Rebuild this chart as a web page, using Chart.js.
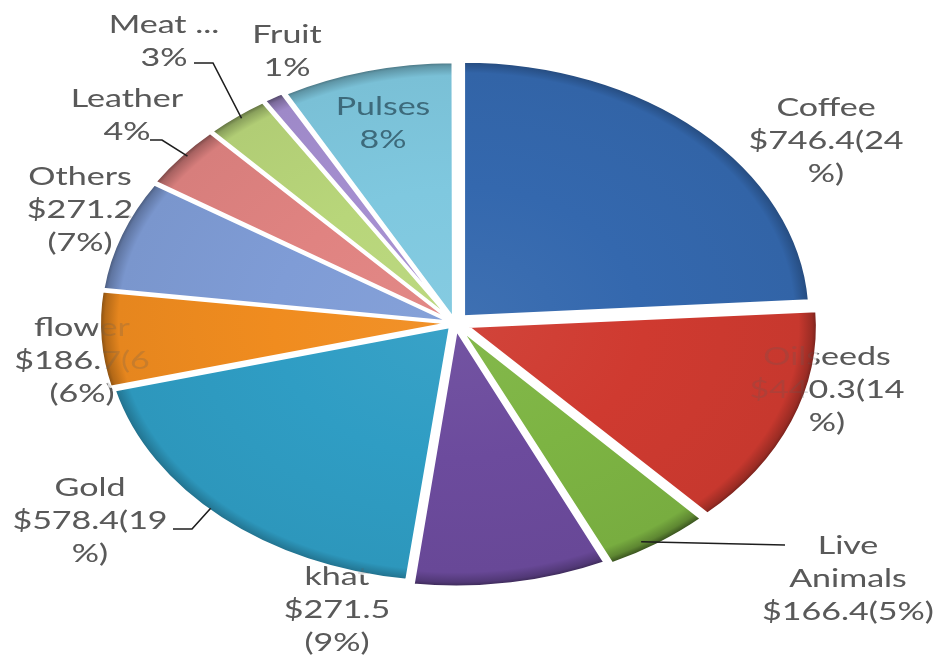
<!DOCTYPE html>
<html>
<head>
<meta charset="utf-8">
<title>Export earnings by commodity</title>
<script src="https://cdn.jsdelivr.net/npm/chart.js@4.4.1/dist/chart.umd.min.js"></script>
<style>
  html, body { margin: 0; padding: 0; background: #fff; }
  canvas { display: block; }
</style>
</head>
<body>
<canvas id="exportPie" width="943" height="656"></canvas>
<script>
// commodities, clockwise from 12 o'clock
const commodities = ['Coffee', 'Oilseeds', 'Live Animals', 'khat', 'Gold', 'flower', 'Others', 'Leather', 'Meat ...', 'Fruit', 'Pulses'];
const shares = [24, 14, 5, 9, 19, 6, 7, 4, 3, 1, 8];          // % of total export earnings
const earnings = [746.4, 440.3, 166.4, 271.5, 578.4, 186.7, 271.2, null, null, null, null]; // USD millions
const sliceColors = ['#3468ae', '#cf3a30', '#7db443', '#6c4b9d', '#2f9dc4', '#f08c1f', '#7f9cd6', '#e08381', '#b8d67a', '#a58fd0', '#7fc8df'];

// how each label reads before wrapping
const labelFormats = [
  '{name} {usd}({pct}%)', '{name} {usd}({pct}%)', '{name} {usd}({pct}%)', '{name} {usd} ({pct}%)',
  '{name} {usd}({pct}%)', '{name} {usd}({pct} ({pct}%)', '{name} {usd} ({pct}%)',
  '{name} {pct}%', '{name} {pct}%', '{name} {pct}%', '{name} {pct}%'
];

// ---- layout ----
const cx = 455, cy = 323;       // pie centre on the page
const stretchX = 1.36;          // the pie is drawn wider than tall
const pieRadius = 255;
const sliceOffsets = [36, 40, 28, 24, 20, 16, 16, 16, 16, 16, 16];
const font = '25px Lato, "Open Sans", sans-serif';
const lineH = 33;

// label block: centre x and first-line y (page px), wrap width, whether it sits inside its slice
const labelSpots = [
  { x: 826, y: 108, wrap: 125 },
  { x: 827, y: 357, wrap: 125 },
  { x: 848, y: 546, wrap: 128 },
  { x: 337, y: 577, wrap: 110 },
  { x: 90, y: 488, wrap: 125 },
  { x: 82, y: 328, wrap: 110 },
  { x: 80, y: 177, wrap: 110 },
  { x: 127, y: 99, wrap: 100 },
  { x: 164, y: 25, wrap: 100 },
  { x: 287, y: 35, wrap: 70 },
  { x: 383, y: 107, wrap: 85, inside: true }
];
// leader lines: where on the slice rim they start (fraction of its sweep) and the bend/end points
const leaders = [
  { index: 2, at: 0.62, points: [[785, 545]] },
  { index: 4, at: 0.54, points: [[192, 529], [173, 529]] },
  { index: 7, at: 0.55, points: [[162, 140], [150, 140]] },
  { index: 8, at: 0.53, points: [[213, 63], [194, 63]] }
];

function shade(hex, amt) {
  const n = parseInt(hex.slice(1), 16);
  const t = amt < 0 ? 0 : 255, p = Math.abs(amt);
  const mix = c => Math.round((t - c) * p + c);
  return `rgb(${mix(n >> 16)},${mix((n >> 8) & 255)},${mix(n & 255)})`;
}

// bevel-ish look: nearly flat fill with a dark rim at the edge
function sliceFill(context) {
  const base = sliceColors[context.dataIndex];
  if (!context.chart.chartArea) return base;
  const g = context.chart.ctx.createRadialGradient(cx, cy, 0, cx, cy, pieRadius + 4);
  g.addColorStop(0, shade(base, 0.05));
  g.addColorStop(0.5, base);
  g.addColorStop(0.94, shade(base, -0.04));
  g.addColorStop(0.978, shade(base, -0.25));
  g.addColorStop(1, shade(base, -0.55));
  return g;
}

function labelText(i) {
  return labelFormats[i]
    .replace('{name}', commodities[i])
    .replace('{usd}', earnings[i] == null ? '' : '$' + earnings[i].toFixed(1))
    .split('{pct}').join(shares[i]);
}

// greedy word wrap, breaking a single long word by characters
function wrapText(ctx, text, width) {
  const lines = [];
  let line = '';
  for (const word of text.split(' ')) {
    const trial = line ? line + ' ' + word : word;
    if (ctx.measureText(trial).width <= width) { line = trial; continue; }
    if (line) lines.push(line);
    line = word;
    while (ctx.measureText(line).width > width) {
      let k = line.length - 1;
      while (k > 1 && ctx.measureText(line.slice(0, k)).width > width) k--;
      lines.push(line.slice(0, k));
      line = line.slice(k);
    }
  }
  if (line) lines.push(line);
  return lines;
}

const toInner = x => cx + (x - cx) / stretchX;

function drawLabels(ctx, alpha, insideOnly) {
  ctx.save();
  ctx.font = font;
  ctx.textAlign = 'center';
  ctx.textBaseline = 'middle';
  ctx.globalAlpha = alpha;
  commodities.forEach((name, i) => {
    const spot = labelSpots[i];
    if (!!spot.inside !== insideOnly) return;
    ctx.fillStyle = spot.inside ? '#3d6a7b' : '#595959';
    wrapText(ctx, labelText(i), spot.wrap).forEach((ln, k) => {
      ctx.fillText(ln, toInner(spot.x), spot.y + k * lineH);
    });
  });
  ctx.restore();
}

const stretchPie = {
  id: 'stretchPie',
  beforeDraw(chart) {
    const ctx = chart.ctx;
    ctx.save();
    ctx.translate(cx, 0);
    ctx.scale(stretchX, 1);
    ctx.translate(-cx, 0);
  },
  beforeDatasetsDraw(chart) {
    drawLabels(chart.ctx, 1, false);
  },
  afterDatasetsDraw(chart) {
    // outside labels show faintly through slices they run under
    drawLabels(chart.ctx, 0.22, false);
    drawLabels(chart.ctx, 1, true);
  },
  afterDraw(chart) {
    const ctx = chart.ctx;
    ctx.restore();
    const arcs = chart.getDatasetMeta(0).data;
    ctx.save();
    ctx.strokeStyle = '#1e1e1e';
    ctx.lineWidth = 1.6;
    leaders.forEach(l => {
      const arc = arcs[l.index];
      const a = arc.startAngle + l.at * (arc.endAngle - arc.startAngle);
      const r = arc.outerRadius + 3;
      const x0 = cx + (arc.x + r * Math.cos(a) - cx) * stretchX;
      const y0 = arc.y + r * Math.sin(a);
      ctx.beginPath();
      ctx.moveTo(x0, y0);
      l.points.forEach(p => ctx.lineTo(p[0], p[1]));
      ctx.stroke();
    });
    ctx.restore();
  }
};

new Chart(document.getElementById('exportPie'), {
  type: 'pie',
  data: {
    labels: commodities,
    datasets: [{
      data: shares,
      backgroundColor: sliceFill,
      borderColor: '#ffffff',
      borderWidth: 2.5,
      offset: sliceOffsets,
      radius: pieRadius,
      clip: false
    }]
  },
  options: {
    responsive: false,
    animation: false,
    events: [],
    layout: { padding: { left: 0, top: 0, right: 2 * (943 / 2 - cx), bottom: 2 * (656 / 2 - cy) } },
    plugins: {
      legend: { display: false },
      tooltip: { enabled: false }
    }
  },
  plugins: [stretchPie]
});
</script>
</body>
</html>
